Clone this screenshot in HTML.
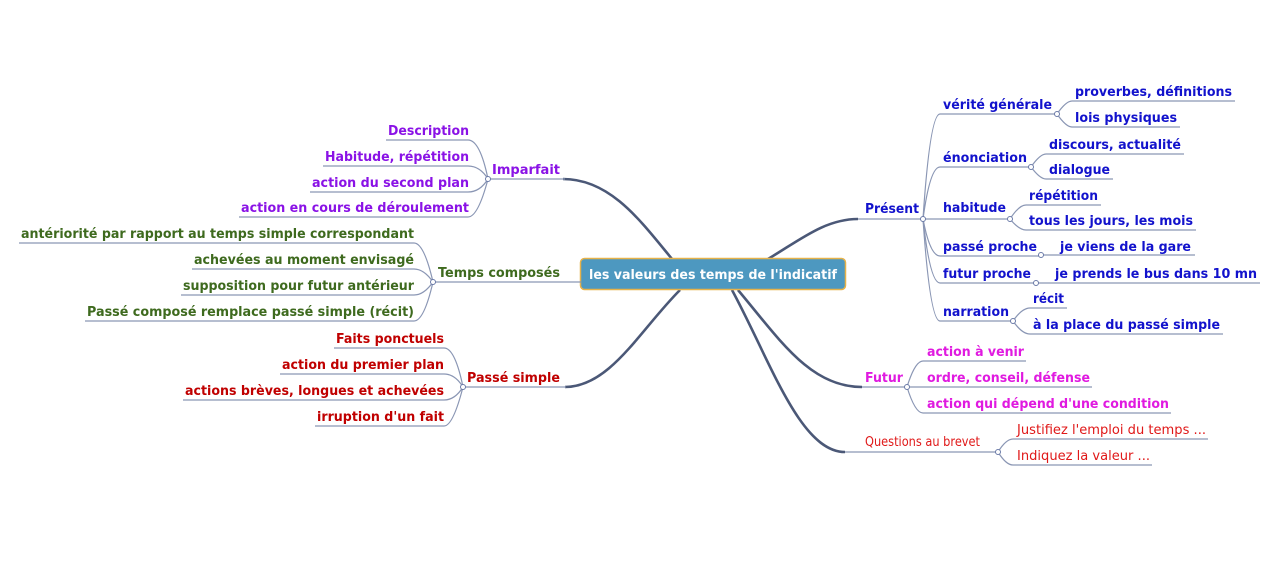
<!DOCTYPE html>
<html><head><meta charset="utf-8"><style>
html,body{margin:0;padding:0;background:#fff;}
svg{display:block;}
text{font-family:"DejaVu Sans","Liberation Sans",sans-serif;font-weight:bold;font-size:13px;}
.n{font-weight:normal;}
.c{fill:none;stroke:#8a96b4;stroke-width:1.2;}
.m{fill:none;stroke:#4b5877;stroke-width:2.6;}
.j{fill:#fff;stroke:#6a7aa8;stroke-width:1;}
</style></head><body>
<svg width="1273" height="585" viewBox="0 0 1273 585" xmlns="http://www.w3.org/2000/svg">
<path class="m" d="M672 259 C640 220 610 179 563 179"/>
<path class="m" d="M680 290 C640 330 610 387 565 387"/>
<path class="m" d="M768 259 C800 240 825 219 858 219"/>
<path class="m" d="M738 290 C780 340 810 387 862 387"/>
<path class="m" d="M732 290 C770 360 800 452 845 452"/>
<rect x="580.5" y="258.5" width="265" height="31" rx="4" fill="#4d98c0" stroke="#e6b24a" stroke-width="1.5"/>
<text x="589" y="279" fill="#fff" textLength="248" lengthAdjust="spacingAndGlyphs">les valeurs des temps de l'indicatif</text>

<g fill="#8a12e6">
<line class="c" x1="488" y1="179" x2="565" y2="179"/>
<text x="492" y="174" textLength="68" lengthAdjust="spacingAndGlyphs">Imparfait</text>
<text x="388" y="135" textLength="81" lengthAdjust="spacingAndGlyphs">Description</text>
<text x="325" y="161" textLength="144" lengthAdjust="spacingAndGlyphs">Habitude, répétition</text>
<text x="312" y="187" textLength="157" lengthAdjust="spacingAndGlyphs">action du second plan</text>
<text x="241" y="212" textLength="228" lengthAdjust="spacingAndGlyphs">action en cours de déroulement</text>
</g>
<path class="c" d="M386 140 H468 Q480 140 488 179"/>
<path class="c" d="M323 166 H468 Q480 166 488 179"/>
<path class="c" d="M310 192 H468 Q480 192 488 179"/>
<path class="c" d="M239 217 H468 Q478 217 488 179"/>
<circle class="j" cx="488" cy="179" r="2.5"/>

<g fill="#3e6a1e">
<line class="c" x1="433" y1="282" x2="581" y2="282"/>
<text x="438" y="277" textLength="122" lengthAdjust="spacingAndGlyphs">Temps composés</text>
<text x="21" y="238" textLength="393" lengthAdjust="spacingAndGlyphs">antériorité par rapport au temps simple correspondant</text>
<text x="194" y="264" textLength="220" lengthAdjust="spacingAndGlyphs">achevées au moment envisagé</text>
<text x="183" y="290" textLength="231" lengthAdjust="spacingAndGlyphs">supposition pour futur antérieur</text>
<text x="87" y="316" textLength="327" lengthAdjust="spacingAndGlyphs">Passé composé remplace passé simple (récit)</text>
</g>
<path class="c" d="M19 243 H414 Q424 243 433 282"/>
<path class="c" d="M192 269 H414 Q424 269 433 282"/>
<path class="c" d="M181 295 H414 Q424 295 433 282"/>
<path class="c" d="M85 321 H414 Q424 321 433 282"/>
<circle class="j" cx="433" cy="282" r="2.5"/>

<g fill="#c00000">
<line class="c" x1="463" y1="387" x2="566" y2="387"/>
<text x="467" y="382" textLength="93" lengthAdjust="spacingAndGlyphs">Passé simple</text>
<text x="336" y="343" textLength="108" lengthAdjust="spacingAndGlyphs">Faits ponctuels</text>
<text x="282" y="369" textLength="162" lengthAdjust="spacingAndGlyphs">action du premier plan</text>
<text x="185" y="395" textLength="259" lengthAdjust="spacingAndGlyphs">actions brèves, longues et achevées</text>
<text x="317" y="421" textLength="127" lengthAdjust="spacingAndGlyphs">irruption d'un fait</text>
</g>
<path class="c" d="M334 348 H444 Q455 348 463 387"/>
<path class="c" d="M280 374 H444 Q455 374 463 387"/>
<path class="c" d="M183 400 H444 Q455 400 463 387"/>
<path class="c" d="M315 426 H444 Q453 426 463 387"/>
<circle class="j" cx="463" cy="387" r="2.5"/>

<g fill="#1212cc">
<line class="c" x1="858" y1="219" x2="923" y2="219"/>
<text x="865" y="213" textLength="54" lengthAdjust="spacingAndGlyphs">Présent</text>
<text x="943" y="109" textLength="109" lengthAdjust="spacingAndGlyphs">vérité générale</text>
<text x="1075" y="96" textLength="157" lengthAdjust="spacingAndGlyphs">proverbes, définitions</text>
<text x="1075" y="122" textLength="102" lengthAdjust="spacingAndGlyphs">lois physiques</text>
<text x="943" y="162" textLength="84" lengthAdjust="spacingAndGlyphs">énonciation</text>
<text x="1049" y="149" textLength="132" lengthAdjust="spacingAndGlyphs">discours, actualité</text>
<text x="1049" y="174" textLength="61" lengthAdjust="spacingAndGlyphs">dialogue</text>
<text x="943" y="212" textLength="63" lengthAdjust="spacingAndGlyphs">habitude</text>
<text x="1029" y="200" textLength="69" lengthAdjust="spacingAndGlyphs">répétition</text>
<text x="1029" y="225" textLength="164" lengthAdjust="spacingAndGlyphs">tous les jours, les mois</text>
<text x="943" y="251" textLength="94" lengthAdjust="spacingAndGlyphs">passé proche</text>
<text x="1060" y="251" textLength="131" lengthAdjust="spacingAndGlyphs">je viens de la gare</text>
<text x="943" y="278" textLength="88" lengthAdjust="spacingAndGlyphs">futur proche</text>
<text x="1055" y="278" textLength="202" lengthAdjust="spacingAndGlyphs">je prends le bus dans 10 mn</text>
<text x="943" y="316" textLength="66" lengthAdjust="spacingAndGlyphs">narration</text>
<text x="1033" y="303" textLength="31" lengthAdjust="spacingAndGlyphs">récit</text>
<text x="1033" y="329" textLength="187" lengthAdjust="spacingAndGlyphs">à la place du passé simple</text>
</g>
<path class="c" d="M923 219 Q930 114 940 114 H1057"/>
<path class="c" d="M923 219 Q930 167 940 167 H1031"/>
<path class="c" d="M923 219 H1010"/>
<path class="c" d="M923 219 Q930 256 940 256 H1041"/>
<path class="c" d="M923 219 Q930 283 940 283 H1036"/>
<path class="c" d="M923 219 Q930 321 940 321 H1013"/>
<path class="c" d="M1057 114 Q1066 101 1072 101 H1235"/>
<path class="c" d="M1057 114 Q1066 127 1072 127 H1180"/>
<path class="c" d="M1031 167 Q1040 154 1046 154 H1184"/>
<path class="c" d="M1031 167 Q1040 179 1046 179 H1113"/>
<path class="c" d="M1010 219 Q1019 205 1026 205 H1101"/>
<path class="c" d="M1010 219 Q1019 230 1026 230 H1196"/>
<path class="c" d="M1041 255 H1195"/>
<path class="c" d="M1036 283 H1260"/>
<path class="c" d="M1013 321 Q1022 308 1030 308 H1067"/>
<path class="c" d="M1013 321 Q1022 334 1030 334 H1223"/>
<circle class="j" cx="923" cy="219" r="2.5"/>
<circle class="j" cx="1057" cy="114" r="2.5"/>
<circle class="j" cx="1031" cy="167" r="2.5"/>
<circle class="j" cx="1010" cy="219" r="2.5"/>
<circle class="j" cx="1041" cy="255" r="2.5"/>
<circle class="j" cx="1036" cy="283" r="2.5"/>
<circle class="j" cx="1013" cy="321" r="2.5"/>

<g fill="#e01ae0">
<line class="c" x1="862" y1="387" x2="907" y2="387"/>
<text x="865" y="382" textLength="38" lengthAdjust="spacingAndGlyphs">Futur</text>
<text x="927" y="356" textLength="97" lengthAdjust="spacingAndGlyphs">action à venir</text>
<text x="927" y="382" textLength="163" lengthAdjust="spacingAndGlyphs">ordre, conseil, défense</text>
<text x="927" y="408" textLength="242" lengthAdjust="spacingAndGlyphs">action qui dépend d'une condition</text>
</g>
<path class="c" d="M907 387 Q915 361 923 361 H1026"/>
<path class="c" d="M907 387 H1092"/>
<path class="c" d="M907 387 Q915 413 923 413 H1171"/>
<circle class="j" cx="907" cy="387" r="2.5"/>

<g fill="#e01818">
<line class="c" x1="845" y1="452" x2="998" y2="452"/>
<text class="n" x="865" y="446" textLength="115" lengthAdjust="spacingAndGlyphs">Questions au brevet</text>
<text class="n" x="1017" y="434" textLength="189" lengthAdjust="spacingAndGlyphs">Justifiez l'emploi du temps ...</text>
<text class="n" x="1017" y="460" textLength="133" lengthAdjust="spacingAndGlyphs">Indiquez la valeur ...</text>
</g>
<path class="c" d="M998 452 Q1006 439 1013 439 H1208"/>
<path class="c" d="M998 452 Q1006 465 1013 465 H1152"/>
<circle class="j" cx="998" cy="452" r="2.5"/>
</svg>
</body></html>
